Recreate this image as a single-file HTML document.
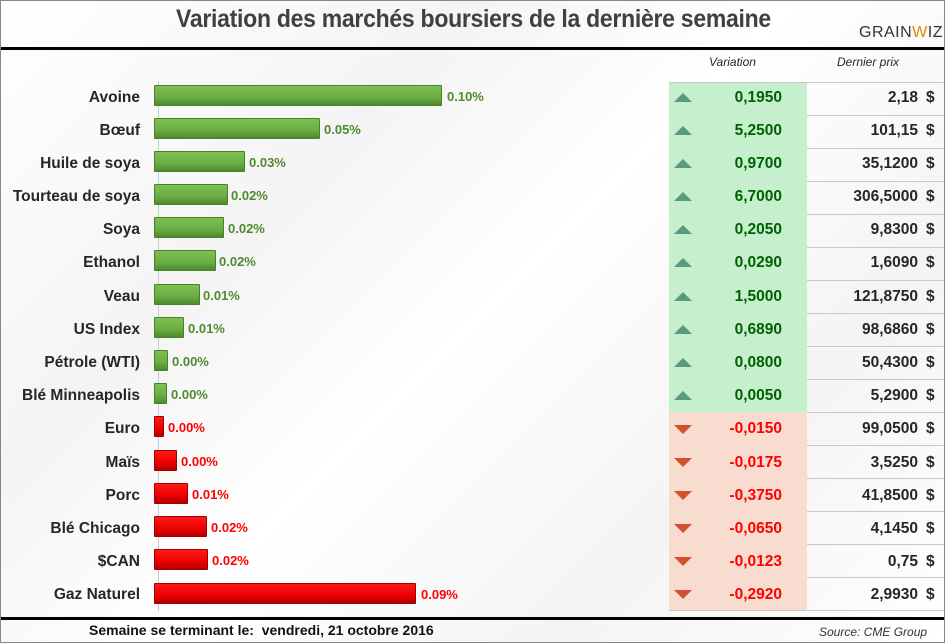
<!DOCTYPE html>
<html><head><meta charset="utf-8"><style>
body{margin:0;width:945px;height:643px;overflow:hidden;font-family:"Liberation Sans",sans-serif;}
#c{position:relative;width:943px;height:641px;border:1px solid #888;background:linear-gradient(135deg,#ffffff 0%,#f4f4f4 30%,#ffffff 50%,#f4f4f4 75%,#fff 100%);}
.t{position:absolute;left:0;width:945px;top:4px;text-align:center;font-size:25px;font-weight:bold;color:#404040;letter-spacing:-0.3px;transform:scaleX(0.92);}
.hl{position:absolute;left:0;width:943px;height:3px;background:#000;}
.lab{position:absolute;right:804px;font-size:15.5px;font-weight:bold;color:#262626;text-align:right;white-space:nowrap;margin-top:2px;}
.bar{position:absolute;left:153px;height:21px;border-radius:1px;}
.g{background:linear-gradient(#7dc152,#6aad44 60%,#4f8a2e);border:1px solid #4a7f2c;box-sizing:border-box;}
.r{background:linear-gradient(#ff1a1a,#ee0000 60%,#b30000);border:1px solid #a00000;box-sizing:border-box;}
.pct{position:absolute;font-size:13px;font-weight:bold;white-space:nowrap;}
.vc{position:absolute;left:668px;width:138px;height:33px;}
.pc{position:absolute;left:806px;width:137px;height:33px;border-top:1px solid #c8c8c8;box-sizing:border-box;}
.vt{position:absolute;left:668px;width:113px;text-align:right;font-size:15.5px;font-weight:bold;margin-top:2px;}
.pt{position:absolute;right:26px;font-size:15.5px;font-weight:bold;color:#262626;margin-top:2px;}
.dol{position:absolute;left:925px;font-size:15.5px;font-weight:bold;color:#262626;margin-top:2px;}
.up{position:absolute;left:673px;width:0;height:0;border-left:9px solid transparent;border-right:9px solid transparent;border-bottom:9px solid #5a9a80;}
.dn{position:absolute;left:673px;width:0;height:0;border-left:9px solid transparent;border-right:9px solid transparent;border-top:9px solid #d2522f;}
.hd{position:absolute;top:54px;font-size:12px;font-style:italic;color:#262626;}
</style></head><body><div id="c">
<div class="t">Variation des marchés boursiers de la dernière semaine</div>
<div style="position:absolute;left:858px;top:23px;font-size:16px;color:#333;letter-spacing:0.5px">GRAIN<span style="color:#e08a00">W</span>IZ</div>
<div class="hl" style="top:46px"></div>
<div class="hl" style="top:616px"></div>
<div style="position:absolute;left:88px;top:621px;font-size:14px;font-weight:bold;color:#111">Semaine se terminant le:&nbsp; vendredi, 21 octobre 2016</div>
<div style="position:absolute;left:818px;top:624px;font-size:12px;font-style:italic;color:#333">Source: CME Group</div>
<div class="hd" style="left:708px">Variation</div>
<div class="hd" style="left:836px">Dernier prix</div>
<div style="position:absolute;left:157px;top:80px;width:1px;height:530px;background:#ccc"></div>

<div class="vc" style="top:81px;height:330px;background:#c6efce"></div>
<div class="vc" style="top:411px;height:198px;background:#f8dccf"></div>
<div style="position:absolute;left:668px;top:609px;width:275px;height:1px;background:#c8c8c8"></div>
<div style="position:absolute;left:668px;top:81px;width:275px;height:1px;background:#c8c8c8"></div>

<div id="rows">
<div class="lab" style="top:86px">Avoine</div><div class="bar g" style="top:84px;width:288px"></div><div class="pct" style="left:446px;top:88px;color:#4e8a2e">0.10%</div>
<div class="pc" style="top:81px"></div><div class="up" style="top:92px"></div><div class="vt" style="top:86px;color:#006100">0,1950</div><div class="pt" style="top:86px">2,18</div><div class="dol" style="top:86px">$</div>

<div class="lab" style="top:119px">Bœuf</div><div class="bar g" style="top:117px;width:166px"></div><div class="pct" style="left:323px;top:121px;color:#4e8a2e">0.05%</div>
<div class="pc" style="top:114px"></div><div class="up" style="top:125px"></div><div class="vt" style="top:119px;color:#006100">5,2500</div><div class="pt" style="top:119px">101,15</div><div class="dol" style="top:119px">$</div>

<div class="lab" style="top:152px">Huile de soya</div><div class="bar g" style="top:150px;width:91px"></div><div class="pct" style="left:248px;top:154px;color:#4e8a2e">0.03%</div>
<div class="pc" style="top:147px"></div><div class="up" style="top:158px"></div><div class="vt" style="top:152px;color:#006100">0,9700</div><div class="pt" style="top:152px">35,1200</div><div class="dol" style="top:152px">$</div>

<div class="lab" style="top:185px">Tourteau de soya</div><div class="bar g" style="top:183px;width:74px"></div><div class="pct" style="left:230px;top:187px;color:#4e8a2e">0.02%</div>
<div class="pc" style="top:180px"></div><div class="up" style="top:191px"></div><div class="vt" style="top:185px;color:#006100">6,7000</div><div class="pt" style="top:185px">306,5000</div><div class="dol" style="top:185px">$</div>

<div class="lab" style="top:218px">Soya</div><div class="bar g" style="top:216px;width:70px"></div><div class="pct" style="left:227px;top:220px;color:#4e8a2e">0.02%</div>
<div class="pc" style="top:213px"></div><div class="up" style="top:224px"></div><div class="vt" style="top:218px;color:#006100">0,2050</div><div class="pt" style="top:218px">9,8300</div><div class="dol" style="top:218px">$</div>

<div class="lab" style="top:251px">Ethanol</div><div class="bar g" style="top:249px;width:62px"></div><div class="pct" style="left:218px;top:253px;color:#4e8a2e">0.02%</div>
<div class="pc" style="top:246px"></div><div class="up" style="top:257px"></div><div class="vt" style="top:251px;color:#006100">0,0290</div><div class="pt" style="top:251px">1,6090</div><div class="dol" style="top:251px">$</div>

<div class="lab" style="top:285px">Veau</div><div class="bar g" style="top:283px;width:46px"></div><div class="pct" style="left:202px;top:287px;color:#4e8a2e">0.01%</div>
<div class="pc" style="top:279px"></div><div class="up" style="top:291px"></div><div class="vt" style="top:285px;color:#006100">1,5000</div><div class="pt" style="top:285px">121,8750</div><div class="dol" style="top:285px">$</div>

<div class="lab" style="top:318px">US Index</div><div class="bar g" style="top:316px;width:30px"></div><div class="pct" style="left:187px;top:320px;color:#4e8a2e">0.01%</div>
<div class="pc" style="top:312px"></div><div class="up" style="top:324px"></div><div class="vt" style="top:318px;color:#006100">0,6890</div><div class="pt" style="top:318px">98,6860</div><div class="dol" style="top:318px">$</div>

<div class="lab" style="top:351px">Pétrole (WTI)</div><div class="bar g" style="top:349px;width:14px"></div><div class="pct" style="left:171px;top:353px;color:#4e8a2e">0.00%</div>
<div class="pc" style="top:345px"></div><div class="up" style="top:357px"></div><div class="vt" style="top:351px;color:#006100">0,0800</div><div class="pt" style="top:351px">50,4300</div><div class="dol" style="top:351px">$</div>

<div class="lab" style="top:384px">Blé Minneapolis</div><div class="bar g" style="top:382px;width:13px"></div><div class="pct" style="left:170px;top:386px;color:#4e8a2e">0.00%</div>
<div class="pc" style="top:378px"></div><div class="up" style="top:390px"></div><div class="vt" style="top:384px;color:#006100">0,0050</div><div class="pt" style="top:384px">5,2900</div><div class="dol" style="top:384px">$</div>

<div class="lab" style="top:417px">Euro</div><div class="bar r" style="top:415px;width:10px"></div><div class="pct" style="left:167px;top:419px;color:#f00">0.00%</div>
<div class="pc" style="top:411px"></div><div class="dn" style="top:424px"></div><div class="vt" style="top:417px;color:#f00">-0,0150</div><div class="pt" style="top:417px">99,0500</div><div class="dol" style="top:417px">$</div>

<div class="lab" style="top:451px">Maïs</div><div class="bar r" style="top:449px;width:23px"></div><div class="pct" style="left:180px;top:453px;color:#f00">0.00%</div>
<div class="pc" style="top:444px"></div><div class="dn" style="top:457px"></div><div class="vt" style="top:451px;color:#f00">-0,0175</div><div class="pt" style="top:451px">3,5250</div><div class="dol" style="top:451px">$</div>

<div class="lab" style="top:484px">Porc</div><div class="bar r" style="top:482px;width:34px"></div><div class="pct" style="left:191px;top:486px;color:#f00">0.01%</div>
<div class="pc" style="top:477px"></div><div class="dn" style="top:490px"></div><div class="vt" style="top:484px;color:#f00">-0,3750</div><div class="pt" style="top:484px">41,8500</div><div class="dol" style="top:484px">$</div>

<div class="lab" style="top:517px">Blé Chicago</div><div class="bar r" style="top:515px;width:53px"></div><div class="pct" style="left:210px;top:519px;color:#f00">0.02%</div>
<div class="pc" style="top:510px"></div><div class="dn" style="top:523px"></div><div class="vt" style="top:517px;color:#f00">-0,0650</div><div class="pt" style="top:517px">4,1450</div><div class="dol" style="top:517px">$</div>

<div class="lab" style="top:550px">$CAN</div><div class="bar r" style="top:548px;width:54px"></div><div class="pct" style="left:211px;top:552px;color:#f00">0.02%</div>
<div class="pc" style="top:543px"></div><div class="dn" style="top:556px"></div><div class="vt" style="top:550px;color:#f00">-0,0123</div><div class="pt" style="top:550px">0,75</div><div class="dol" style="top:550px">$</div>

<div class="lab" style="top:583px">Gaz Naturel</div><div class="bar r" style="top:582px;width:262px"></div><div class="pct" style="left:420px;top:586px;color:#f00">0.09%</div>
<div class="pc" style="top:576px"></div><div class="dn" style="top:589px"></div><div class="vt" style="top:583px;color:#f00">-0,2920</div><div class="pt" style="top:583px">2,9930</div><div class="dol" style="top:583px">$</div>
</div>
</div></body></html>
